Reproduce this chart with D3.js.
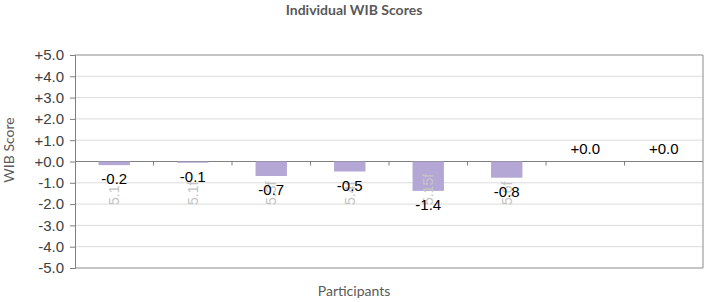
<!DOCTYPE html>
<html>
<head>
<meta charset="utf-8">
<script src="https://cdn.jsdelivr.net/npm/d3@7"></script>
<style>
  body { margin: 0; background: #fff; }
</style>
</head>
<body>
<div id="chart"></div>
<script>
const participants = ["P1", "P2", "P3", "P4", "P5", "P6", "P7", "P8"];
const scoreLabels = ["5.1", "5.1f", "5.3f", "5.4f", "5.15f", "5.6f", "", ""];
const scores = [-0.17, -0.06, -0.68, -0.47, -1.38, -0.76, 0, 0];
const yTicks = [5, 4, 3, 2, 1, 0, -1, -2, -3, -4, -5];

const width = 708, height = 302;
const margin = { top: 55, right: 5, bottom: 34, left: 75 };

const svg = d3.select("#chart").append("svg")
  .attr("width", width)
  .attr("height", height);

const x = d3.scaleBand()
  .domain(participants)
  .range([margin.left, width - margin.right])
  .paddingInner(0.6)
  .paddingOuter(0.3);

const y = d3.scaleLinear()
  .domain([-5, 5])
  .range([height - margin.bottom, margin.top]);

const fmt = d => (d >= 0 ? "+" : "") + d.toFixed(1);

// gridlines
svg.append("g")
  .selectAll("line")
  .data(yTicks)
  .join("line")
  .attr("x1", margin.left)
  .attr("x2", width - margin.right)
  .attr("y1", d => y(d))
  .attr("y2", d => y(d))
  .attr("stroke", d => (d === 5 || d === -5) ? "#8c8c8c" : "#dcdcdc")
  .attr("stroke-width", 1);

// right border
svg.append("line")
  .attr("x1", width - margin.right).attr("x2", width - margin.right)
  .attr("y1", y(5)).attr("y2", y(-5))
  .attr("stroke", "#8c8c8c");

// Y axis
const yAxis = svg.append("g")
  .attr("transform", `translate(${margin.left},0)`)
  .call(d3.axisLeft(y).tickValues(yTicks).tickFormat(fmt).tickSize(5).tickPadding(6));
yAxis.select(".domain").attr("stroke", "#7f7f7f");
yAxis.selectAll(".tick line").attr("stroke", "#7f7f7f");
yAxis.selectAll("text")
  .attr("font-family", "Liberation Sans, Arial, sans-serif")
  .attr("font-size", "15px")
  .attr("fill", "#404040");

// Zero line with category boundary ticks
const bounds = d3.range(participants.length + 1).map(i => margin.left + i * (width - margin.left - margin.right) / participants.length);
svg.append("line")
  .attr("x1", margin.left).attr("x2", width - margin.right)
  .attr("y1", y(0)).attr("y2", y(0))
  .attr("stroke", "#7f7f7f");
svg.append("g")
  .selectAll("line")
  .data(bounds.slice(1, -1))
  .join("line")
  .attr("x1", d => d).attr("x2", d => d)
  .attr("y1", y(0)).attr("y2", y(0) + 4)
  .attr("stroke", "#7f7f7f");

// Bars
svg.append("g")
  .selectAll("rect")
  .data(scores)
  .join("rect")
  .attr("x", (d, i) => x(participants[i]))
  .attr("y", d => y(Math.max(0, d)))
  .attr("width", x.bandwidth())
  .attr("height", d => Math.abs(y(d) - y(0)))
  .attr("fill", "#b4a7d6");

// Category labels (rotated, light gray)
svg.append("g")
  .selectAll("text")
  .data(scoreLabels)
  .join("text")
  .attr("transform", (d, i) => `translate(${x(participants[i]) + x.bandwidth() / 2 + 5},205) rotate(-90)`)
  .attr("text-anchor", "start")
  .attr("font-family", "Liberation Sans, Arial, sans-serif")
  .attr("font-size", "14px")
  .attr("fill", "#c4c4c4")
  .text(d => d);

// Value labels
svg.append("g")
  .selectAll("text")
  .data(scores)
  .join("text")
  .attr("x", (d, i) => x(participants[i]) + x.bandwidth() / 2)
  .attr("y", d => d < 0 ? y(d) + 19 : y(d) - 8)
  .attr("text-anchor", "middle")
  .attr("font-family", "Liberation Sans, Arial, sans-serif")
  .attr("font-size", "15px")
  .attr("fill", "#000")
  .text(d => fmt(d));

// Title
svg.append("text")
  .attr("x", 354)
  .attr("y", 15)
  .attr("text-anchor", "middle")
  .attr("font-family", "Lato, 'Open Sans', sans-serif")
  .attr("font-size", "14px")
  .attr("font-weight", "bold")
  .attr("fill", "#595959")
  .text("Individual WIB Scores");

// Axis titles
svg.append("text")
  .attr("transform", `translate(14,150) rotate(-90)`)
  .attr("text-anchor", "middle")
  .attr("font-family", "Lato, 'Open Sans', sans-serif")
  .attr("font-size", "14px")
  .attr("fill", "#595959")
  .text("WIB Score");

svg.append("text")
  .attr("x", 354)
  .attr("y", 296)
  .attr("text-anchor", "middle")
  .attr("font-family", "Lato, 'Open Sans', sans-serif")
  .attr("font-size", "14px")
  .attr("fill", "#595959")
  .text("Participants");
</script>
</body>
</html>
